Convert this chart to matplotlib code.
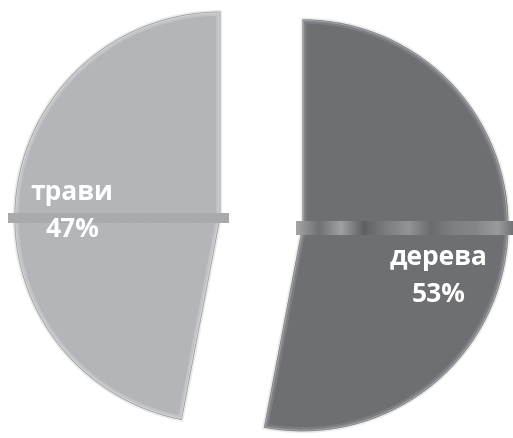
import numpy as np
import matplotlib
matplotlib.use("Agg")
import matplotlib.pyplot as plt
from matplotlib.colors import LinearSegmentedColormap

# shares of plant groups
labels = ["дерева", "трави"]
shares = [53, 47]
colors = ["#6e6f72", "#b4b5b8"]
rim_colors = ["#848588", "#c9cacc"]
band_colors = [
    ["#a3a4a6", "#707174", "#a0a1a3", "#5f6063", "#7c7d80", "#939497",
     "#6b6c6f", "#7e7f82", "#858689", "#9a9b9d", "#5e5f62"],
    ["#a9aaac", "#a9aaac"],
]

fig = plt.figure(figsize=(5.13, 4.39), dpi=100)
ax = fig.add_axes([0, 0, 1, 1])
ax.set_aspect("equal")
ax.axis("off")

wedges, _ = ax.pie(shares, startangle=90, counterclock=False, colors=colors,
                   explode=[0.2, 0.2], radius=1.0,
                   wedgeprops=dict(edgecolor="#ececec", linewidth=2.5))

# bevel: light rim just inside each slice, thin dark line at the edge
for w, rc in zip(wedges, rim_colors):
    rim = matplotlib.patches.Wedge(w.center, w.r, w.theta1, w.theta2,
                                   facecolor="none", edgecolor=rc,
                                   linewidth=6, alpha=0.7, zorder=3)
    ax.add_patch(rim)
    rim.set_clip_path(w)
    inner = matplotlib.patches.Wedge(w.center, w.r, w.theta1, w.theta2,
                                     facecolor="none", edgecolor="#5a5b5e",
                                     linewidth=1.0, alpha=0.5, zorder=3)
    ax.add_patch(inner)
    inner.set_clip_path(w)

# horizontal bands across each slice
(cx0, cy0), r0 = wedges[0].center, wedges[0].r
(cx1, cy1), r1 = wedges[1].center, wedges[1].r
band_boxes = [
    (cx0 - 0.03 * r0, cx0 + 1.06 * r0, cy0 - 0.045 * r0, cy0 + 0.02 * r0),
    (cx1 - 1.03 * r1, cx1 + 0.04 * r1, cy1 - 0.027 * r1, cy1 + 0.018 * r1),
]
for (x0, x1, y0, y1), bc in zip(band_boxes, band_colors):
    cmap = LinearSegmentedColormap.from_list("band", bc)
    grad = np.linspace(0, 1, 256)[None, :]
    ax.imshow(grad, cmap=cmap, extent=(x0, x1, y0, y1), aspect="auto",
              interpolation="bilinear", zorder=4)

# labels
font = dict(color="white", fontsize=19, fontweight="bold", family="Open Sans",
            ha="center", va="center", zorder=5)
ax.text(cx0 + 0.66 * r0, cy0 - 0.15 * r0, labels[0], **font)
ax.text(cx0 + 0.66 * r0, cy0 - 0.33 * r0, f"{shares[0]}%", **font)
ax.text(cx1 - 0.72 * r1, cy1 + 0.125 * r1, labels[1], **font)
ax.text(cx1 - 0.72 * r1, cy1 - 0.055 * r1, f"{shares[1]}%", **font)

ax.set_xlim(-1.269, 1.221)
ax.set_ylim(-1.051, 1.080)
fig.savefig("out.png", dpi=100, facecolor="white")
